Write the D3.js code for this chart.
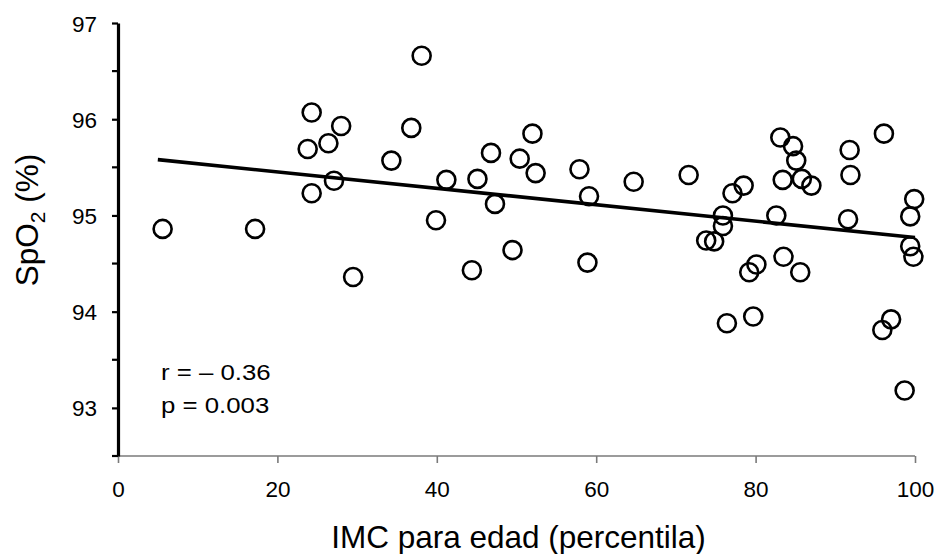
<!DOCTYPE html>
<html>
<head>
<meta charset="utf-8">
<script src="https://cdn.jsdelivr.net/npm/d3@7"></script>
<style>
  body { margin: 0; background: #fff; }
  svg { display: block; font-family: "Liberation Sans", Arial, sans-serif; }
</style>
</head>
<body>
<div id="chart"></div>
<script>
// BMI-for-age percentile vs SpO2
var imcPercentil = [
  5.6, 17.2, 24.3, 28.0, 26.4, 23.8, 27.1, 24.3, 29.5, 38.1,
  36.8, 34.3, 41.2, 45.1, 46.8, 39.9, 47.3, 44.4, 49.5, 52.0,
  50.4, 52.4, 57.9, 59.1, 58.9, 64.7, 71.6, 83.1, 84.7, 85.1,
  91.8, 96.1, 91.9, 78.5, 77.1, 83.4, 85.8, 87.0, 99.9, 99.4,
  75.9, 75.9, 73.8, 74.8, 82.6, 91.6, 99.4, 99.8, 80.1, 79.2,
  83.5, 85.6, 76.4, 79.7, 97.0, 95.9, 98.7
];
var spo2 = [
  94.86, 94.86, 96.07, 95.93, 95.75, 95.69, 95.36, 95.23, 94.36, 96.66,
  95.91, 95.57, 95.37, 95.38, 95.65, 94.95, 95.12, 94.43, 94.64, 95.85,
  95.59, 95.44, 95.48, 95.20, 94.51, 95.35, 95.42, 95.81, 95.72, 95.57,
  95.68, 95.85, 95.42, 95.31, 95.23, 95.37, 95.38, 95.31, 95.17, 94.99,
  95.00, 94.89, 94.74, 94.73, 95.00, 94.96, 94.68, 94.57, 94.49, 94.41,
  94.57, 94.41, 93.88, 93.95, 93.92, 93.81, 93.18
];
// regression line ends (x, y)
var fitX = [5, 100];
var fitY = [95.58, 94.77];

var xTicks = [0, 20, 40, 60, 80, 100];
var yTicks = [93, 94, 95, 96, 97];
var yMinorTicks = [92.5, 93.5, 94.5, 95.5, 96.5];
var statLines = ["r = \u2013 0.36", "p = 0.003"];

var width = 936, height = 554;
var margin = { top: 23, right: 21, bottom: 98, left: 118 };
var plotW = width - margin.left - margin.right;
var plotH = height - margin.top - margin.bottom;

var svg = d3.select('#chart').append('svg')
  .attr('width', width)
  .attr('height', height);

var x = d3.scaleLinear().domain([0, 100]).range([margin.left, margin.left + plotW]);
var y = d3.scaleLinear().domain([92.5, 97]).range([margin.top + plotH, margin.top]);

// x axis (grey)
var xAxis = svg.append('g')
  .attr('transform', 'translate(0,' + (margin.top + plotH) + ')')
  .call(d3.axisBottom(x).tickValues(xTicks).tickFormat(d3.format('d'))
    .tickSize(7).tickPadding(18).tickSizeOuter(0));
xAxis.select('.domain').attr('stroke', '#7a7a7a').attr('stroke-width', 1.6)
  .attr('d', 'M' + (margin.left - 5) + ',0H' + x(100));
xAxis.selectAll('.tick line').attr('stroke', '#7a7a7a').attr('stroke-width', 1.6);
xAxis.selectAll('.tick text').attr('font-size', 22.5).attr('fill', '#000');

// y axis (black, thick)
var yAxis = svg.append('g')
  .attr('transform', 'translate(' + margin.left + ',0)')
  .call(d3.axisLeft(y).tickValues(yTicks).tickFormat(d3.format('d'))
    .tickSize(6).tickPadding(15).tickSizeOuter(0));
yAxis.select('.domain').attr('stroke', '#000').attr('stroke-width', 3.2);
yAxis.selectAll('.tick line').attr('stroke', '#000').attr('stroke-width', 2.2);
yAxis.selectAll('.tick text').attr('font-size', 22.5).attr('fill', '#000').attr('dy', '0.36em');

yAxis.selectAll('line.minor')
  .data(yMinorTicks)
  .enter().append('line')
  .attr('class', 'minor')
  .attr('x1', -6).attr('x2', 0)
  .attr('y1', d => y(d)).attr('y2', d => y(d))
  .attr('stroke', '#000').attr('stroke-width', 2.2);

// regression line
svg.append('line')
  .attr('x1', x(fitX[0])).attr('y1', y(fitY[0]))
  .attr('x2', x(fitX[1])).attr('y2', y(fitY[1]))
  .attr('stroke', '#000').attr('stroke-width', 3.6);

// points
svg.append('g')
  .selectAll('circle')
  .data(imcPercentil.map((v, i) => [v, spo2[i]]))
  .enter().append('circle')
  .attr('cx', d => x(d[0]))
  .attr('cy', d => y(d[1]))
  .attr('r', 9)
  .attr('fill', 'none')
  .attr('stroke', '#000')
  .attr('stroke-width', 2.6);

// stats text (wide face in the original, so stretch it a little)
svg.append('g')
  .selectAll('text')
  .data(statLines)
  .enter().append('text')
  .attr('transform', (d, i) => 'translate(161,' + (380 + i * 33) + ') scale(1.2,1)')
  .attr('font-size', 21.5)
  .text(d => d);

// axis titles
svg.append('text')
  .attr('x', (x(0) + x(100)) / 2 + 2)
  .attr('y', 548)
  .attr('text-anchor', 'middle')
  .attr('font-size', 31.5)
  .text('IMC para edad (percentila)');

var yTitle = svg.append('text')
  .attr('transform', 'translate(38,220) rotate(-90)')
  .attr('text-anchor', 'middle')
  .attr('font-size', 31.5);
yTitle.append('tspan').text('SpO');
yTitle.append('tspan').attr('font-size', 21).attr('dy', 7).text('2');
yTitle.append('tspan').attr('dy', -7).text(' (%)');
</script>
</body>
</html>
